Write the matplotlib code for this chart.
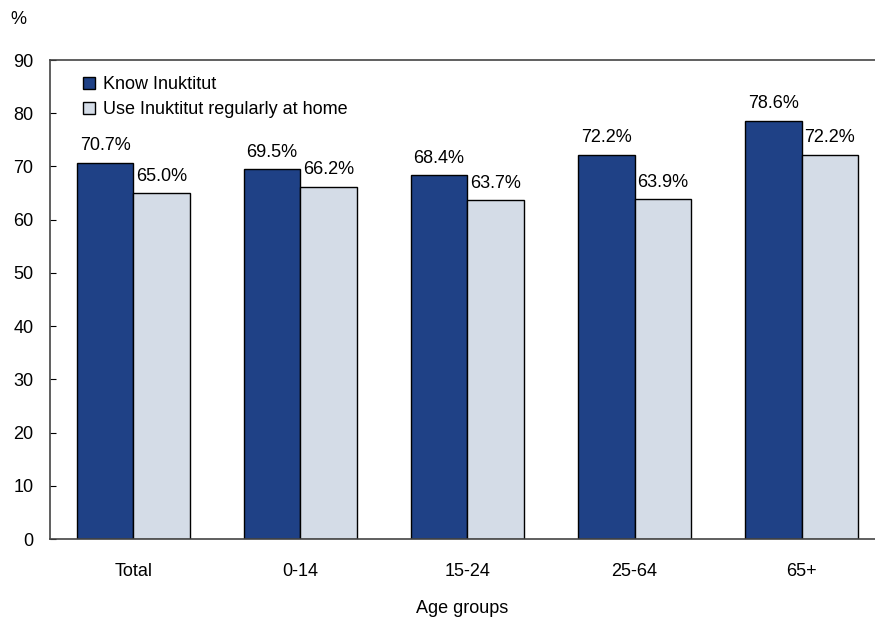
import matplotlib.pyplot as plt
import numpy as np

plt.rcParams['font.family'] = ['Liberation Sans', 'DejaVu Sans']

age_groups = ["Total", "0-14", "15-24", "25-64", "65+"]
know_inuktitut = [70.7, 69.5, 68.4, 72.2, 78.6]
use_at_home = [65.0, 66.2, 63.7, 63.9, 72.2]
series_names = ["Know Inuktitut", "Use Inuktitut regularly at home"]
y_ticks = [0, 10, 20, 30, 40, 50, 60, 70, 80, 90]

dark = "#1f4186"
light = "#d4dce7"
fs = 13

fig = plt.figure(figsize=(8.75, 6.2), dpi=100)
ax = fig.add_axes([0.0571, 0.1306, 0.9429, 0.7726])

x = np.arange(len(age_groups))
w = 0.34
b1 = ax.bar(x - w / 2, know_inuktitut, w, color=dark, edgecolor="black", linewidth=1.0, label=series_names[0])
b2 = ax.bar(x + w / 2, use_at_home, w, color=light, edgecolor="black", linewidth=1.0, label=series_names[1])

# value labels above each bar
for bars, vals in ((b1, know_inuktitut), (b2, use_at_home)):
    for rect, v in zip(bars, vals):
        ax.annotate(f"{v:.1f}%", (rect.get_x() + rect.get_width() / 2, v),
                    xytext=(0, 6), textcoords="offset points",
                    ha="center", va="bottom", fontsize=fs)

ax.set_xlim(-0.5, 4.44)
ax.set_ylim(0, 90)
ax.set_yticks(y_ticks)
ax.set_xticks(x)
ax.set_xticklabels(age_groups)
ax.tick_params(axis="y", direction="in", length=4, labelsize=fs, pad=12)
ax.tick_params(axis="x", length=0, labelsize=fs, pad=17)
ax.spines["right"].set_visible(False)
for s in ("left", "top", "bottom"):
    ax.spines[s].set_color("#444444")
    ax.spines[s].set_linewidth(1.2)

ax.set_xlabel("Age groups", fontsize=fs, labelpad=15)
fig.text(0.012, 0.968, "%", fontsize=fs, va="center", ha="left")

leg = ax.legend(loc="upper left", frameon=False, fontsize=fs, handlelength=0.7,
                handleheight=0.7, handletextpad=0.4, labelspacing=0.45,
                borderaxespad=0.5, bbox_to_anchor=(0.02, 1.0))

fig.savefig("out.png", dpi=100)
